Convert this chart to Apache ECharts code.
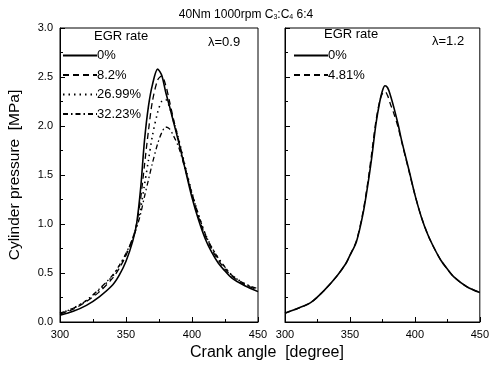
<!DOCTYPE html>
<html><head><meta charset="utf-8">
<script src="https://cdn.jsdelivr.net/npm/echarts@6/dist/echarts.min.js"></script>
<style>html,body{margin:0;padding:0;background:#fff}#c{width:492px;height:369px}</style>
</head><body><div id="c"></div>
<script>
var xTicks = [300, 350, 400, 450];
var yTicks = [0.0, 0.5, 1.0, 1.5, 2.0, 2.5, 3.0];

var leftAngles = [300,310,320,330,340,345,350,355,358,361,364,367,370,374,377,380,383,386,390,395,400,405,410,415,420,425,430,440,450];
var left0   = [0.07,0.11,0.17,0.26,0.38,0.48,0.62,0.82,1.0,1.35,1.85,2.2,2.42,2.58,2.52,2.35,2.2,2.04,1.83,1.55,1.27,1.04,0.85,0.71,0.6,0.52,0.45,0.37,0.31];
var left82  = [0.08,0.13,0.21,0.31,0.45,0.55,0.68,0.85,1.0,1.25,1.6,1.95,2.25,2.47,2.51,2.42,2.25,2.07,1.85,1.57,1.3,1.07,0.88,0.74,0.63,0.54,0.47,0.38,0.33];
var left2699= [0.09,0.14,0.22,0.33,0.47,0.57,0.69,0.85,0.98,1.15,1.4,1.65,1.9,2.14,2.25,2.27,2.19,2.05,1.86,1.58,1.32,1.09,0.9,0.76,0.65,0.56,0.48,0.39,0.33];
var left3223= [0.09,0.14,0.22,0.34,0.48,0.58,0.7,0.85,0.96,1.1,1.28,1.45,1.62,1.82,1.93,1.99,1.97,1.9,1.78,1.55,1.31,1.09,0.9,0.76,0.65,0.56,0.48,0.39,0.34];

var rightAngles = [300,310,320,330,340,347,350,355,360,364,367,370,373,375,377,379,381,384,387,390,393,396,400,405,410,415,420,425,430,440,450];
var right0   = [0.09,0.14,0.2,0.32,0.47,0.6,0.68,0.82,1.1,1.42,1.7,2.02,2.25,2.36,2.41,2.39,2.32,2.18,2.02,1.84,1.68,1.52,1.3,1.07,0.89,0.75,0.63,0.54,0.46,0.36,0.3];
var right481 = [0.09,0.14,0.2,0.32,0.47,0.6,0.68,0.83,1.12,1.45,1.75,2.05,2.26,2.33,2.35,2.31,2.23,2.12,1.99,1.83,1.67,1.51,1.3,1.07,0.89,0.75,0.63,0.54,0.46,0.36,0.3];

var leftNames = ['0%', '8.2%', '26.99%', '32.23%'];
var rightNames = ['0%', '4.81%'];

function pairs(xs, ys) { return xs.map(function (x, i) { return [x, ys[i]]; }); }

var FONT = 'Liberation Sans, Arial, sans-serif';
function xAxisCfg(idx) {
  return {
    type: 'value', gridIndex: idx, min: 300, max: 450, interval: 50,
    axisLine: { show: true, lineStyle: { color: '#000', width: 1 } },
    axisTick: { show: true, inside: true, length: 5, lineStyle: { color: '#000' } },
    minorTick: { show: true, splitNumber: 2, length: 3, lineStyle: { color: '#000' } },
    splitLine: { show: false },
    axisLabel: { color: '#000', fontSize: 11, fontFamily: FONT, margin: 7 }
  };
}
function yAxisCfg(idx, showLabel) {
  var a = {
    type: 'value', gridIndex: idx, min: 0, max: 3, interval: 0.5,
    axisLine: { show: true, lineStyle: { color: '#000', width: 1 } },
    axisTick: { show: true, inside: true, length: 5, lineStyle: { color: '#000' } },
    minorTick: { show: true, splitNumber: 2, length: 3, lineStyle: { color: '#000' } },
    splitLine: { show: false },
    axisLabel: { show: showLabel, color: '#000', fontSize: 11, fontFamily: FONT, margin: 7,
      formatter: function (v) { return v.toFixed(1); } }
  };
  if (showLabel) {
    a.name = 'Cylinder pressure  [MPa]';
    a.nameLocation = 'middle';
    a.nameGap = 37;
    a.nameTextStyle = { color: '#000', fontSize: 15.5, fontFamily: FONT };
  }
  return a;
}
function line(name, xs, ys, xi, type, w) {
  return {
    name: name, type: 'line', xAxisIndex: xi, yAxisIndex: xi,
    data: pairs(xs, ys), smooth: 0.3, symbol: 'none', showSymbol: false,
    lineStyle: { color: '#000', width: w, type: type },
    itemStyle: { color: '#000' }, z: 3
  };
}
function legendCfg(names, left) {
  return {
    data: names, orient: 'vertical', left: left, top: 44, itemWidth: 34, itemHeight: 11, itemGap: 6.5,
    itemStyle: { opacity: 0, borderWidth: 0 },
    textStyle: { color: '#000', fontSize: 13, fontFamily: FONT, padding: [0, 0, 0, -5] },
    selectedMode: false
  };
}

var chart = echarts.init(document.getElementById('c'), null, { renderer: 'canvas' });
chart.setOption({
  animation: false,
  backgroundColor: '#fff',
  title: {
    text: '40Nm 1000rpm C{s|3}:C{s|4} 6:4', left: 'center', top: 3,
    textStyle: { color: '#000', fontSize: 12, fontWeight: 'normal', fontFamily: FONT,
      rich: { s: { fontSize: 7, fontFamily: FONT, color: '#000', padding: [6, 0, 0, 0] } } }
  },
  grid: [
    { left: 60, top: 28, width: 198, height: 294, show: true, borderColor: '#000', borderWidth: 1 },
    { left: 285, top: 28, width: 198, height: 294, show: true, borderColor: '#000', borderWidth: 1 }
  ],
  xAxis: [xAxisCfg(0), xAxisCfg(1)],
  yAxis: [yAxisCfg(0, true), yAxisCfg(1, false)],
  legend: [legendCfg(leftNames, 57), legendCfg(rightNames, 288)],
  graphic: [
    { type: 'text', left: 94, top: 30, style: { text: 'EGR rate', fill: '#000', font: '13px ' + FONT } },
    { type: 'text', left: 324, top: 28, style: { text: 'EGR rate', fill: '#000', font: '13px ' + FONT } },
    { type: 'text', left: 208, top: 36, style: { text: 'λ=0.9', fill: '#000', font: '13px ' + FONT } },
    { type: 'text', left: 432, top: 35, style: { text: 'λ=1.2', fill: '#000', font: '13px ' + FONT } },
    { type: 'text', left: 190, top: 345, style: { text: 'Crank angle  [degree]', fill: '#000', font: '16px ' + FONT } }
  ],
  series: [
    line(leftNames[0], leftAngles, left0, 0, 'solid', 1.6),
    line(leftNames[1], leftAngles, left82, 0, [6, 4], 1.3),
    line(leftNames[2], leftAngles, left2699, 0, [1.5, 4], 1.6),
    line(leftNames[3], leftAngles, left3223, 0, [5, 3, 1.5, 3], 1.3),
    line(rightNames[0], rightAngles, right0, 1, 'solid', 1.6),
    line(rightNames[1], rightAngles, right481, 1, [6, 4], 1.3)
  ]
});
</script></body></html>
